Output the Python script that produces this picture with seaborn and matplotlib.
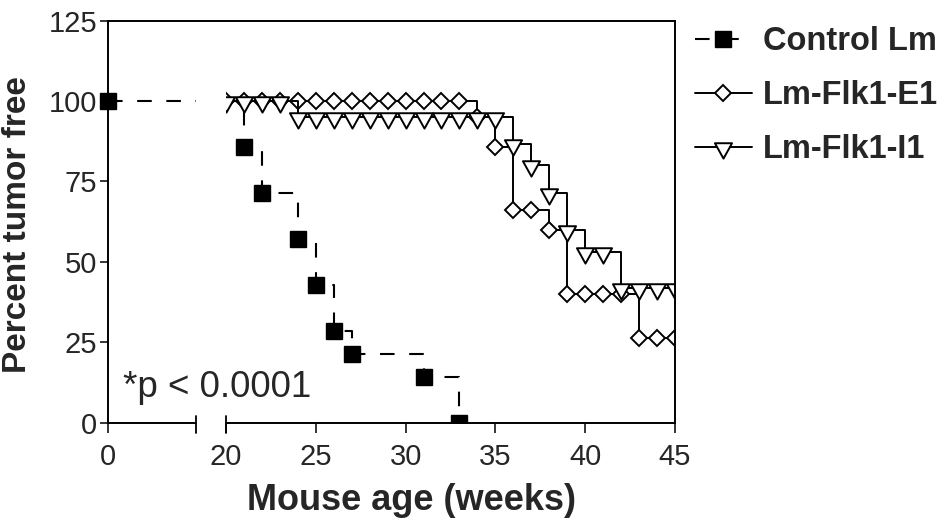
import matplotlib
matplotlib.use("Agg")
import matplotlib.pyplot as plt
from matplotlib.path import Path
from matplotlib.patches import Rectangle
import seaborn as sns

# ------------------------------------------------------
# data (percent tumor free by week)
# ------------------------------------------------------
control_weeks = [0, 21, 22, 24, 25, 26, 27, 31, 33]
control_pct = [100, 85.7, 71.4, 57.1, 42.9, 28.6, 21.4, 14.3, 0]

e1_weeks = [20, 21, 22, 23, 24, 25, 26, 27, 28, 29, 30, 31, 32,
            33, 34, 35, 36, 37, 38, 39, 40, 41, 42, 43, 44, 45]
e1_pct = [100, 100, 100, 100, 100, 100, 100, 100, 100, 100, 100, 100, 100,
          100, 95, 85.8, 66.1, 66.1, 59.9, 39.9, 39.9, 39.9, 39.9, 26.2, 26.2, 26.2]

i1_weeks = [20, 21, 22, 23, 24, 25, 26, 27, 28, 29, 30, 31, 32,
            33, 34, 35, 36, 37, 38, 39, 40, 41, 42, 43, 44, 45]
i1_pct = [100, 100, 100, 100, 95, 95, 95, 95, 95, 95, 95, 95, 95,
          95, 95, 95, 86.5, 80, 71.3, 60, 53.2, 53.2, 42, 42, 42, 42]

labels = ["Control Lm", "Lm-Flk1-E1", "Lm-Flk1-I1"]
x_ticks = [0, 20, 25, 30, 35, 40, 45]
y_ticks = [0, 25, 50, 75, 100, 125]

# axis break: week 0 is drawn at position ZERO_POS, axis jumps to 20
ZERO_POS = 13.43
BREAK_LO = 18.33
BREAK_HI = 20


def to_pos(weeks):
    return [ZERO_POS if w < BREAK_HI else w for w in weeks]


sns.set_style("ticks")
plt.rcParams["font.family"] = ["Liberation Sans", "DejaVu Sans"]

fig = plt.figure(figsize=(9.44, 5.19), dpi=100)
ax = fig.add_axes([0.1144, 0.1856, 0.6006, 0.7746])

# downward triangle with the line passing near its top edge
tri = Path([(-1, 0.5), (1, 0.5), (0, -1.3), (-1, 0.5)],
           [Path.MOVETO, Path.LINETO, Path.LINETO, Path.CLOSEPOLY])

sns.lineplot(x=to_pos(control_weeks), y=control_pct, ax=ax, errorbar=None,
             drawstyle="steps-post", color="k", lw=1.5, linestyle=(0, (7, 7)),
             marker="s", ms=12, mfc="k", mec="k", mew=1.0, label=labels[0])
sns.lineplot(x=e1_weeks, y=e1_pct, ax=ax, errorbar=None,
             drawstyle="steps-post", color="k", lw=1.4,
             marker="D", ms=8.3, mfc="white", mec="k", mew=1.4, label=labels[1])
sns.lineplot(x=i1_weeks, y=i1_pct, ax=ax, errorbar=None,
             drawstyle="steps-post", color="k", lw=1.4,
             marker=tri, ms=16, mfc="white", mec="k", mew=1.4, label=labels[2])

# control square at week 0 sits on the left spine: let it spill left, clip at bottom
ctrl_line = ax.lines[0]
ctrl_line.set_clip_path(Rectangle((-0.1, 0), 1.2, 1.2, transform=ax.transAxes))

ax.set_xlim(ZERO_POS, 45)
ax.set_ylim(0, 125)
ax.set_xticks(to_pos(x_ticks))
ax.set_xticklabels([str(t) for t in x_ticks])
ax.set_yticks(y_ticks)
ax.tick_params(axis="x", direction="out", length=7.5, width=1.3, labelsize=21, pad=7)
ax.tick_params(axis="y", direction="out", length=6, width=1.3, labelsize=21, pad=2)

# box frame, broken bottom axis
for side in ["left", "top", "right"]:
    ax.spines[side].set_linewidth(1.4)
    ax.spines[side].set_color("k")
ax.spines["bottom"].set_visible(False)
ax.axvspan(BREAK_LO, BREAK_HI, color="white", zorder=2.2, lw=0)
ax.plot([ZERO_POS, BREAK_LO], [0, 0], color="k", lw=1.4, clip_on=False, zorder=3)
ax.plot([BREAK_HI, 45], [0, 0], color="k", lw=1.4, clip_on=False, zorder=3)
for bx in [BREAK_LO, BREAK_HI]:
    ax.plot([bx, bx], [-3.2, 2.1], color="k", lw=1.3, clip_on=False, zorder=3)

ax.text(14.25, 8, "*p < 0.0001", fontsize=26.5, va="baseline", ha="left")

ax.set_xlabel("Mouse age (weeks)", fontsize=26, fontweight="bold")
ax.set_ylabel("Percent tumor free", fontsize=24, fontweight="bold")
ax.xaxis.set_label_coords(0.536, -0.15)
ax.yaxis.set_label_coords(-0.132, 0.493)

ax.legend(loc="upper left", bbox_to_anchor=(0.736, 0.949), bbox_transform=fig.transFigure,
          frameon=False, prop={"weight": "bold", "size": 23.5},
          handlelength=1.75, handletextpad=0.35, labelspacing=0.7,
          borderpad=0, borderaxespad=0)

fig.savefig("out.png", dpi=100)
